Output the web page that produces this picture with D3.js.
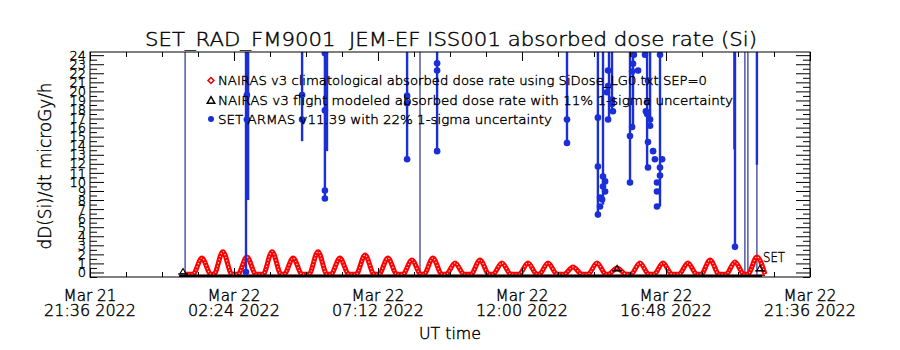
<!DOCTYPE html>
<html><head><meta charset="utf-8">
<script src="https://cdn.jsdelivr.net/npm/d3@7"></script>
<style>
body{margin:0;background:#fff}
svg{display:block}
text{font-family:"DejaVu Sans",sans-serif;font-weight:200;fill:#000;stroke:#000;stroke-width:0.4px;white-space:pre}
</style>
</head><body>
<svg id="c" width="900" height="350"></svg>
<script>
// ---------- data (hours after Mar 21 21:36 UT) ----------
const titleText = "SET_RAD_FM9001  JEM-EF ISS001 absorbed dose rate (Si)";
const yTitle = "dD(Si)/dt microGy/h";
const xTitle = "UT time";
const xTickHours = [0, 4.8, 9.6, 14.4, 19.2, 24];
const xTickDates = ["Mar 21", "Mar 22", "Mar 22", "Mar 22", "Mar 22", "Mar 22"];
const xTickTimes = ["21:36 2022", "02:24 2022", "07:12 2022", "12:00 2022", "16:48 2022", "21:36 2022"];
const xMinorHours = [1.2, 2.4, 3.6, 6, 7.2, 8.4, 10.8, 12, 13.2, 15.6, 16.8, 18, 20.4, 21.6, 22.8];
const yTickValues = [0,1,2,3,4,5,6,7,8,9,10,11,12,13,14,15,16,17,18,19,20,21,22,23,24];
const yMinorValues = [-0.5,0.5,1.5,2.5,3.5,4.5,5.5,6.5,7.5,8.5,9.5,10.5,11.5,12.5,13.5,14.5,15.5,16.5,17.5,18.5,19.5,20.5,21.5,22.5,23.5];
const legendLabels = [
  "NAIRAS v3 climatological absorbed dose rate using SiDose_LG0.txt SEP=0",
  "NAIRAS v3 flight modeled absorbed dose rate with 11% 1-sigma uncertainty",
  "SET ARMAS v11.39 with 22% 1-sigma uncertainty"
];

// NAIRAS climatological (red)
const nairasHours = [3.17,3.43,3.73,4.03,4.13,4.43,4.73,4.93,5.23,5.53,5.77,6.07,6.37,6.47,6.77,7.07,7.3,7.6,7.9,8.03,8.33,8.63,8.87,9.17,9.47,9.63,9.93,10.23,10.43,10.73,11.03,11.13,11.43,11.73,11.87,12.17,12.47,12.7,13.0,13.3,13.43,13.73,14.03,14.3,14.6,14.9,14.97,15.27,15.57,15.8,16.1,16.4,16.6,16.9,17.2,17.27,17.57,17.87,18.03,18.33,18.63,18.8,19.1,19.4,19.63,19.93,20.23,20.37,20.67,20.97,21.2,21.5,21.8,21.93,22.23,22.5];
const nairasDose  = [-0.2,-0.2,1.6,-0.2,-0.2,2.3,-0.2,-0.2,1.72,-0.2,-0.2,2.3,-0.2,-0.2,1.6,-0.2,-0.2,2.3,-0.2,-0.2,1.6,-0.2,-0.2,1.94,-0.2,-0.2,1.6,-0.2,-0.2,1.39,-0.2,-0.2,1.6,-0.2,-0.2,1.06,-0.2,-0.2,1.39,-0.2,-0.2,1.06,-0.2,-0.2,1.06,-0.2,-0.2,1.06,-0.2,-0.2,0.6,-0.2,-0.2,1.06,-0.2,-0.2,0.5,-0.2,-0.2,1.06,-0.2,-0.2,1.06,-0.2,-0.2,1.06,-0.2,-0.2,1.39,-0.2,-0.2,1.17,-0.2,-0.2,1.72,-0.2];

// NAIRAS flight modeled (black)
const flightLineHours = [2.97, 22.4];
const flightLineDose = [-0.45, -0.45];
const flightHours = [3.1, 17.57, 22.33];
const flightDose = [0.05, 0.4, 0.4];

// SET ARMAS (blue) points
const setHours = [5.2,5.23,5.23,7.07,7.07,7.83,7.83,7.83,7.83,10.57,10.57,10.57,11.57,11.57,11.57,15.9,15.9,16.93,16.93,17.1,17.17,17.1,17.17,17.0,17.07,17.0,16.93,17.27,17.27,17.23,17.4,17.4,17.43,17.27,18.13,18.1,18.07,18.27,18.07,18.0,18.0,18.5,18.6,18.57,18.53,18.57,18.67,18.67,18.6,18.77,18.83,18.6,19.0,19.07,19.0,19.0,18.9,18.9,18.9,21.5];
const setDose  = [0.05,19.6,16.9,19.6,16.9,24.2,17.9,9.06,8.17,19.5,18.7,12.5,23.1,22.3,13.4,16.9,14.3,17.1,11.7,10.6,10.06,9.5,8.94,8.28,8.06,7.28,6.39,22.3,20.6,19.9,19.1,18.6,17.8,16.9,24.06,23.06,22.2,22.3,16.06,15.06,9.94,24.06,21.2,18.8,17.8,17.5,16.9,16.2,14.4,13.4,12.5,11.6,24.06,12.5,11.6,10.7,9.94,8.94,7.28,2.83];
// SET ARMAS error bars
const setBarHours = [5.2,5.27,7.07,7.83,7.9,10.57,11.57,15.9,16.93,17.1,17.3,17.4,18.0,18.1,18.57,18.67,19.0,21.48,21.5,22.23];
const setBarLow   = [0.05,8.0,14.5,8.2,13.4,12.5,13.4,14.3,6.4,7.5,16.9,17.7,9.94,16.06,11.6,16.2,7.28,13.6,2.83,11.9];
const setBarHigh  = [26,26,26,26,26,26,26,26,26,26,26,26,26,26,26,26,26,26,26,26];
// SET ARMAS saturated samples (full-height lines)
const setSatHours = [3.17, 11.0, 21.83, 21.93, 22.23];

// ---------- layout ----------
const svg = d3.select("#c");
const L = 90, R = 810, T = 52, B = 277;
const x = d3.scaleLinear().domain([0, 24]).range([L, R]);
const y = d3.scaleLinear().domain([-0.5, 24.35]).range([B, T]);

svg.append("defs").append("clipPath").attr("id","clip")
  .append("rect").attr("x",L).attr("y",T).attr("width",R-L).attr("height",B-T);
const plot = svg.append("g").attr("clip-path","url(#clip)");

const BLUE = "#1a2fd8", NAVY = "#26318f", RED = "#ff0000";

// saturated lines
plot.selectAll(".sat").data(setSatHours).enter().append("line")
  .attr("x1", d => x(d)).attr("x2", d => x(d))
  .attr("y1", y(-0.5)).attr("y2", y(26))
  .attr("stroke", NAVY).attr("stroke-width", 1.2);

// red NAIRAS
const redPts = nairasHours.map((h,i)=>[h, nairasDose[i]]);
const redLine = d3.line().x(d=>x(d[0])).y(d=>y(d[1])).curve(d3.curveMonotoneX);
plot.append("path").attr("d", redLine(redPts)).attr("fill","none")
  .attr("stroke", RED).attr("stroke-width", 5).attr("stroke-linejoin","round");
plot.append("path").attr("d", redLine(redPts)).attr("fill","none")
  .attr("stroke", "#fff").attr("stroke-width", 1.2).attr("stroke-dasharray","1.2,2").attr("opacity",0.85);
plot.append("line").attr("x1", x(nairasHours[0])).attr("x2", x(nairasHours[nairasHours.length-1]))
  .attr("y1", y(-0.32)).attr("y2", y(-0.32)).attr("stroke","#a00808").attr("stroke-width",1.5);

// black flight baseline
const fl = flightLineHours.map((h,i)=>[h, flightLineDose[i]]);
plot.append("path").attr("d", d3.line().x(d=>x(d[0])).y(d=>y(d[1]))(fl))
  .attr("stroke","#000").attr("stroke-width",3.5).attr("fill","none");
const tri = d3.symbol().type(d3.symbolTriangle).size(16);
flightHours.forEach((h,i)=>{
  plot.append("path").attr("d", tri()).attr("transform",`translate(${x(h)},${y(flightDose[i])})`)
    .attr("fill","none").attr("stroke","#000").attr("stroke-width",1.1);
  plot.append("line").attr("x1",x(h)-5).attr("x2",x(h)+5).attr("y1",y(flightDose[i])+2).attr("y2",y(flightDose[i])+2)
    .attr("stroke","#000").attr("stroke-width",1.2);
});

// blue error bars
plot.selectAll(".bar").data(setBarHours).enter().append("line")
  .attr("x1", d => x(d)).attr("x2", d => x(d))
  .attr("y1", (d,i) => y(setBarLow[i])).attr("y2", (d,i) => y(setBarHigh[i]))
  .attr("stroke", BLUE).attr("stroke-width", 2.4);
// blue markers
plot.selectAll(".pt").data(setHours).enter().append("circle")
  .attr("cx", d => x(d)).attr("cy", (d,i) => y(setDose[i])).attr("r", 3.3)
  .attr("fill", BLUE);

// ---------- axes ----------
function clean(g){ g.select(".domain").remove(); g.selectAll("line").attr("stroke","#000"); }
svg.append("g").attr("transform",`translate(0,${B})`)
  .call(d3.axisBottom(x).tickValues(xTickHours).tickSize(-9).tickSizeOuter(0).tickFormat("")).call(clean);
svg.append("g").attr("transform",`translate(0,${B})`)
  .call(d3.axisBottom(x).tickValues(xMinorHours).tickSize(-5).tickSizeOuter(0).tickFormat("")).call(clean);
svg.append("g").attr("transform",`translate(0,${T})`)
  .call(d3.axisTop(x).tickValues(xTickHours).tickSize(-9).tickSizeOuter(0).tickFormat("")).call(clean);
svg.append("g").attr("transform",`translate(0,${T})`)
  .call(d3.axisTop(x).tickValues(xMinorHours).tickSize(-5).tickSizeOuter(0).tickFormat("")).call(clean);

const yl = svg.append("g").attr("transform",`translate(${L},0)`)
  .call(d3.axisLeft(y).tickValues(yTickValues).tickSize(-14).tickSizeOuter(0).tickPadding(4).tickFormat(d3.format("d")));
clean(yl);
yl.selectAll("text").attr("font-size",13).attr("font-family","DejaVu Sans").attr("font-weight",200)
  .attr("fill","#000").attr("stroke","#000").attr("stroke-width",0.4);
svg.append("g").attr("transform",`translate(${L},0)`)
  .call(d3.axisLeft(y).tickValues(yMinorValues).tickSize(-7).tickSizeOuter(0).tickFormat("")).call(clean);
svg.append("g").attr("transform",`translate(${R},0)`)
  .call(d3.axisRight(y).tickValues(yTickValues).tickSize(-14).tickSizeOuter(0).tickFormat("")).call(clean);
svg.append("g").attr("transform",`translate(${R},0)`)
  .call(d3.axisRight(y).tickValues(yMinorValues).tickSize(-7).tickSizeOuter(0).tickFormat("")).call(clean);

svg.append("rect").attr("x",L).attr("y",T).attr("width",R-L).attr("height",B-T)
  .attr("fill","none").attr("stroke","#000").attr("stroke-width",1);

// x tick labels
xTickHours.forEach((h,i)=>{
  svg.append("text").attr("x",x(h)).attr("y",301).attr("text-anchor","middle").attr("font-size",15)
    .attr("textLength",53).attr("lengthAdjust","spacingAndGlyphs").text(xTickDates[i]);
  svg.append("text").attr("x",x(h)).attr("y",316).attr("text-anchor","middle").attr("font-size",15)
    .attr("textLength",92).attr("lengthAdjust","spacingAndGlyphs").text(xTickTimes[i]);
});

// titles
svg.append("text").attr("x",451).attr("y",46).attr("text-anchor","middle").attr("font-size",19)
  .attr("textLength",612).attr("lengthAdjust","spacingAndGlyphs").text(titleText);
svg.append("text").attr("x",450).attr("y",339).attr("text-anchor","middle").attr("font-size",15)
  .attr("textLength",62).attr("lengthAdjust","spacingAndGlyphs").text(xTitle);
svg.append("text").attr("transform","translate(51,166) rotate(-90)").attr("text-anchor","middle").attr("font-size",17)
  .attr("textLength",167).attr("lengthAdjust","spacingAndGlyphs").text(yTitle);

// legend
const legW = [489, 515, 334];
const legY = [85, 105, 124];
legendLabels.forEach((t,i)=>{
  svg.append("text").attr("x",218).attr("y",legY[i]).attr("font-size",13)
    .attr("textLength",legW[i]).attr("lengthAdjust","spacingAndGlyphs").text(t);
});
svg.append("path").attr("d", d3.symbol().type(d3.symbolDiamond2).size(22)())
  .attr("transform",`translate(211,${legY[0]-4.5})`).attr("fill","none").attr("stroke","#e00000").attr("stroke-width",1.5);
svg.append("path").attr("d", d3.symbol().type(d3.symbolTriangle).size(24)())
  .attr("transform",`translate(211,${legY[1]-4})`).attr("fill","none").attr("stroke","#000").attr("stroke-width",1.5);
svg.append("circle").attr("cx",211).attr("cy",legY[2]-5).attr("r",3).attr("fill",BLUE);

svg.append("text").attr("x",763).attr("y",262).attr("font-size",14)
  .attr("textLength",22).attr("lengthAdjust","spacingAndGlyphs").text("SET");
</script>
</body></html>
